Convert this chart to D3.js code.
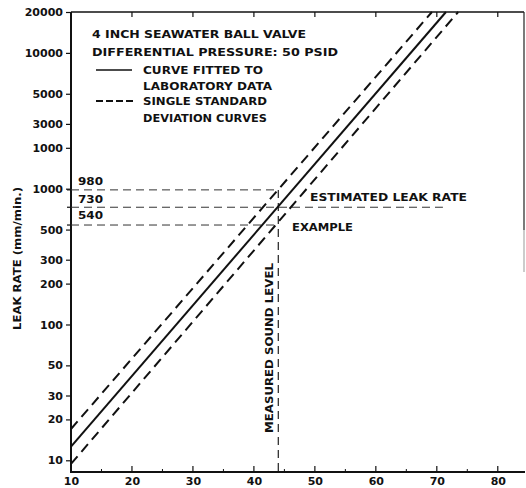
<!DOCTYPE html>
<html><head><meta charset="utf-8">
<script src="https://cdn.jsdelivr.net/npm/d3@7"></script>
<style>
html,body{margin:0;padding:0;background:#fff;}
text{font-family:"DejaVu Sans",Arial,sans-serif;font-weight:bold;fill:#111;}
</style></head>
<body>
<script>
// ---- data ----
const xTicks = [10,20,30,40,50,60,70,80];
const xMinorTicks = [15,25,35,45,55,65,75];
const yTickValues = [10,20,30,50,100,200,300,500,1000,2000,3000,5000,10000,20000];
const yTickLabels = ["10","20","30","50","100","200","300","500","1000","1000","3000","5000","10000","20000"];
// sound level (x) and leak rate (y) endpoints of each curve
const fittedX = [10, 71.5];
const fittedY = [12.6, 20000];
const upperX = [10, 69.2];
const upperY = [17, 20000];
const lowerX = [10, 73.5];
const lowerY = [9.4, 20000];
// example
const exampleLevel = 44;
const exampleRates = [980, 730, 540];
const exampleLabels = ["980","730","540"];
const estimatedLineEnd = 71;
const legendLines = ["4 INCH SEAWATER BALL VALVE","DIFFERENTIAL PRESSURE: 50 PSID"];

const W=526,H=488;
const FONT="DejaVu Sans, Arial, sans-serif";
const svg=d3.select("body").append("svg").attr("width",W).attr("height",H);
const x=d3.scaleLinear().domain([10,84.3]).range([71,524]);
const y=d3.scaleLog().domain([8.2,20000]).range([472,12]);

const g=svg.append("g");
// axes frame
g.append("line").attr("x1",x(10)).attr("x2",525).attr("y1",y(8.2)).attr("y2",y(8.2)).attr("stroke","#111").attr("stroke-width",2.2);
g.append("line").attr("x1",x(10)).attr("x2",x(10)).attr("y1",y(8.2)+1).attr("y2",y(20000)).attr("stroke","#111").attr("stroke-width",2);
g.append("line").attr("x1",x(10)).attr("x2",524).attr("y1",y(20000)).attr("y2",y(20000)).attr("stroke","#111").attr("stroke-width",1.6);
g.append("line").attr("x1",524).attr("x2",524).attr("y1",y(20000)).attr("y2",230).attr("stroke","#222").attr("stroke-width",1.2);
g.append("line").attr("x1",524).attr("x2",524).attr("y1",230).attr("y2",272).attr("stroke","#999").attr("stroke-width",1);

// x axis ticks (inward up) + labels
const xa=d3.axisBottom(x).tickValues(xTicks).tickSize(0).tickFormat(d3.format("d"));
const xg=g.append("g").attr("transform",`translate(0,${y(8.2)})`).call(xa);
xg.select(".domain").remove();
xg.selectAll("text").attr("dy","0").attr("y",13).style("font-size","11px").style("font-family",FONT).style("font-weight","bold").attr("fill","#111");
g.selectAll(".xt").data(xTicks.slice(1)).join("line").attr("x1",d=>x(d)).attr("x2",d=>x(d)).attr("y1",y(8.2)).attr("y2",y(8.2)-6).attr("stroke","#111").attr("stroke-width",1.2);
g.selectAll(".xm").data(xMinorTicks).join("line").attr("x1",d=>x(d)).attr("x2",d=>x(d)).attr("y1",y(8.2)).attr("y2",y(8.2)-3).attr("stroke","#111").attr("stroke-width",1);
// top ticks
g.selectAll(".tt").data(xTicks.slice(1)).join("line").attr("x1",d=>x(d)).attr("x2",d=>x(d)).attr("y1",y(20000)).attr("y2",y(20000)+5).attr("stroke","#111").attr("stroke-width",1.2);

// y axis
const ya=d3.axisLeft(y).tickValues(yTickValues).tickSize(5).tickPadding(3).tickFormat((d,i)=>yTickLabels[i]);
const yg=g.append("g").attr("transform",`translate(${x(10)},0)`).call(ya);
yg.select(".domain").remove();
yg.selectAll("line").attr("stroke","#111").attr("stroke-width",1.2);
yg.selectAll("text").style("font-size","11px").style("font-family",FONT).style("font-weight","bold").attr("fill","#111");

// guide lines
const guide={stroke:"#333","stroke-width":1,"stroke-dasharray":"8,5"};
function gl(x1,y1,x2,y2,o){const l=g.append("line").attr("x1",x1).attr("y1",y1).attr("x2",x2).attr("y2",y2);Object.entries(o).forEach(([k,v])=>l.attr(k,v));return l;}
gl(x(10),y(exampleRates[0]),x(exampleLevel),y(exampleRates[0]),guide);
gl(x(10),y(exampleRates[1]),x(estimatedLineEnd),y(exampleRates[1]),guide);
gl(x(10),y(exampleRates[2]),x(exampleLevel),y(exampleRates[2]),guide);
gl(x(exampleLevel),y(exampleRates[0]),x(exampleLevel),y(8.2),{stroke:"#222","stroke-width":1.2,"stroke-dasharray":"8,5"});
exampleRates.forEach(r=>gl(x(10),y(r),x(10)-4,y(r),{stroke:"#111","stroke-width":1.2}));

// curves
const line=d3.line().x(d=>x(d[0])).y(d=>y(d[1]));
function curve(xs,ys,dash){
  g.append("path").datum(xs.map((v,i)=>[v,ys[i]])).attr("d",line).attr("fill","none").attr("stroke","#111").attr("stroke-width",2).attr("stroke-dasharray",dash||null);
}
curve(fittedX,fittedY,null);
curve(upperX,upperY,"10,6");
curve(lowerX,lowerY,"10,6");

// texts
function txt(s,xx,yy,len,extra){const t=g.append("text").attr("x",xx).attr("y",yy).style("font-size","11px").text(s);
  if(len) t.attr("textLength",len).attr("lengthAdjust","spacingAndGlyphs");
  if(extra) extra(t); return t;}
txt(legendLines[0],92,38,214);
txt(legendLines[1],92,56,246);
g.append("line").attr("x1",96).attr("x2",132).attr("y1",70).attr("y2",70).attr("stroke","#111").attr("stroke-width",1.6);
txt("CURVE FITTED TO",143,74,120);
txt("LABORATORY DATA",143,90,129);
g.append("line").attr("x1",96).attr("x2",134).attr("y1",101).attr("y2",101).attr("stroke","#111").attr("stroke-width",1.8).attr("stroke-dasharray","7,3");
txt("SINGLE STANDARD",143,105,124);
txt("DEVIATION CURVES",143,122,124);

exampleLabels.forEach((s,i)=>txt(s,78,[185,203,219][i],25));
txt("ESTIMATED LEAK RATE",310,201,157);
txt("EXAMPLE",292,231,61);
txt("MEASURED SOUND LEVEL",0,0,170,t=>t.attr("transform","translate(273,433) rotate(-90)"));
txt("LEAK RATE (mm/min.)",0,0,143,t=>t.attr("transform","translate(21,330) rotate(-90)"));
</script>
</body></html>
